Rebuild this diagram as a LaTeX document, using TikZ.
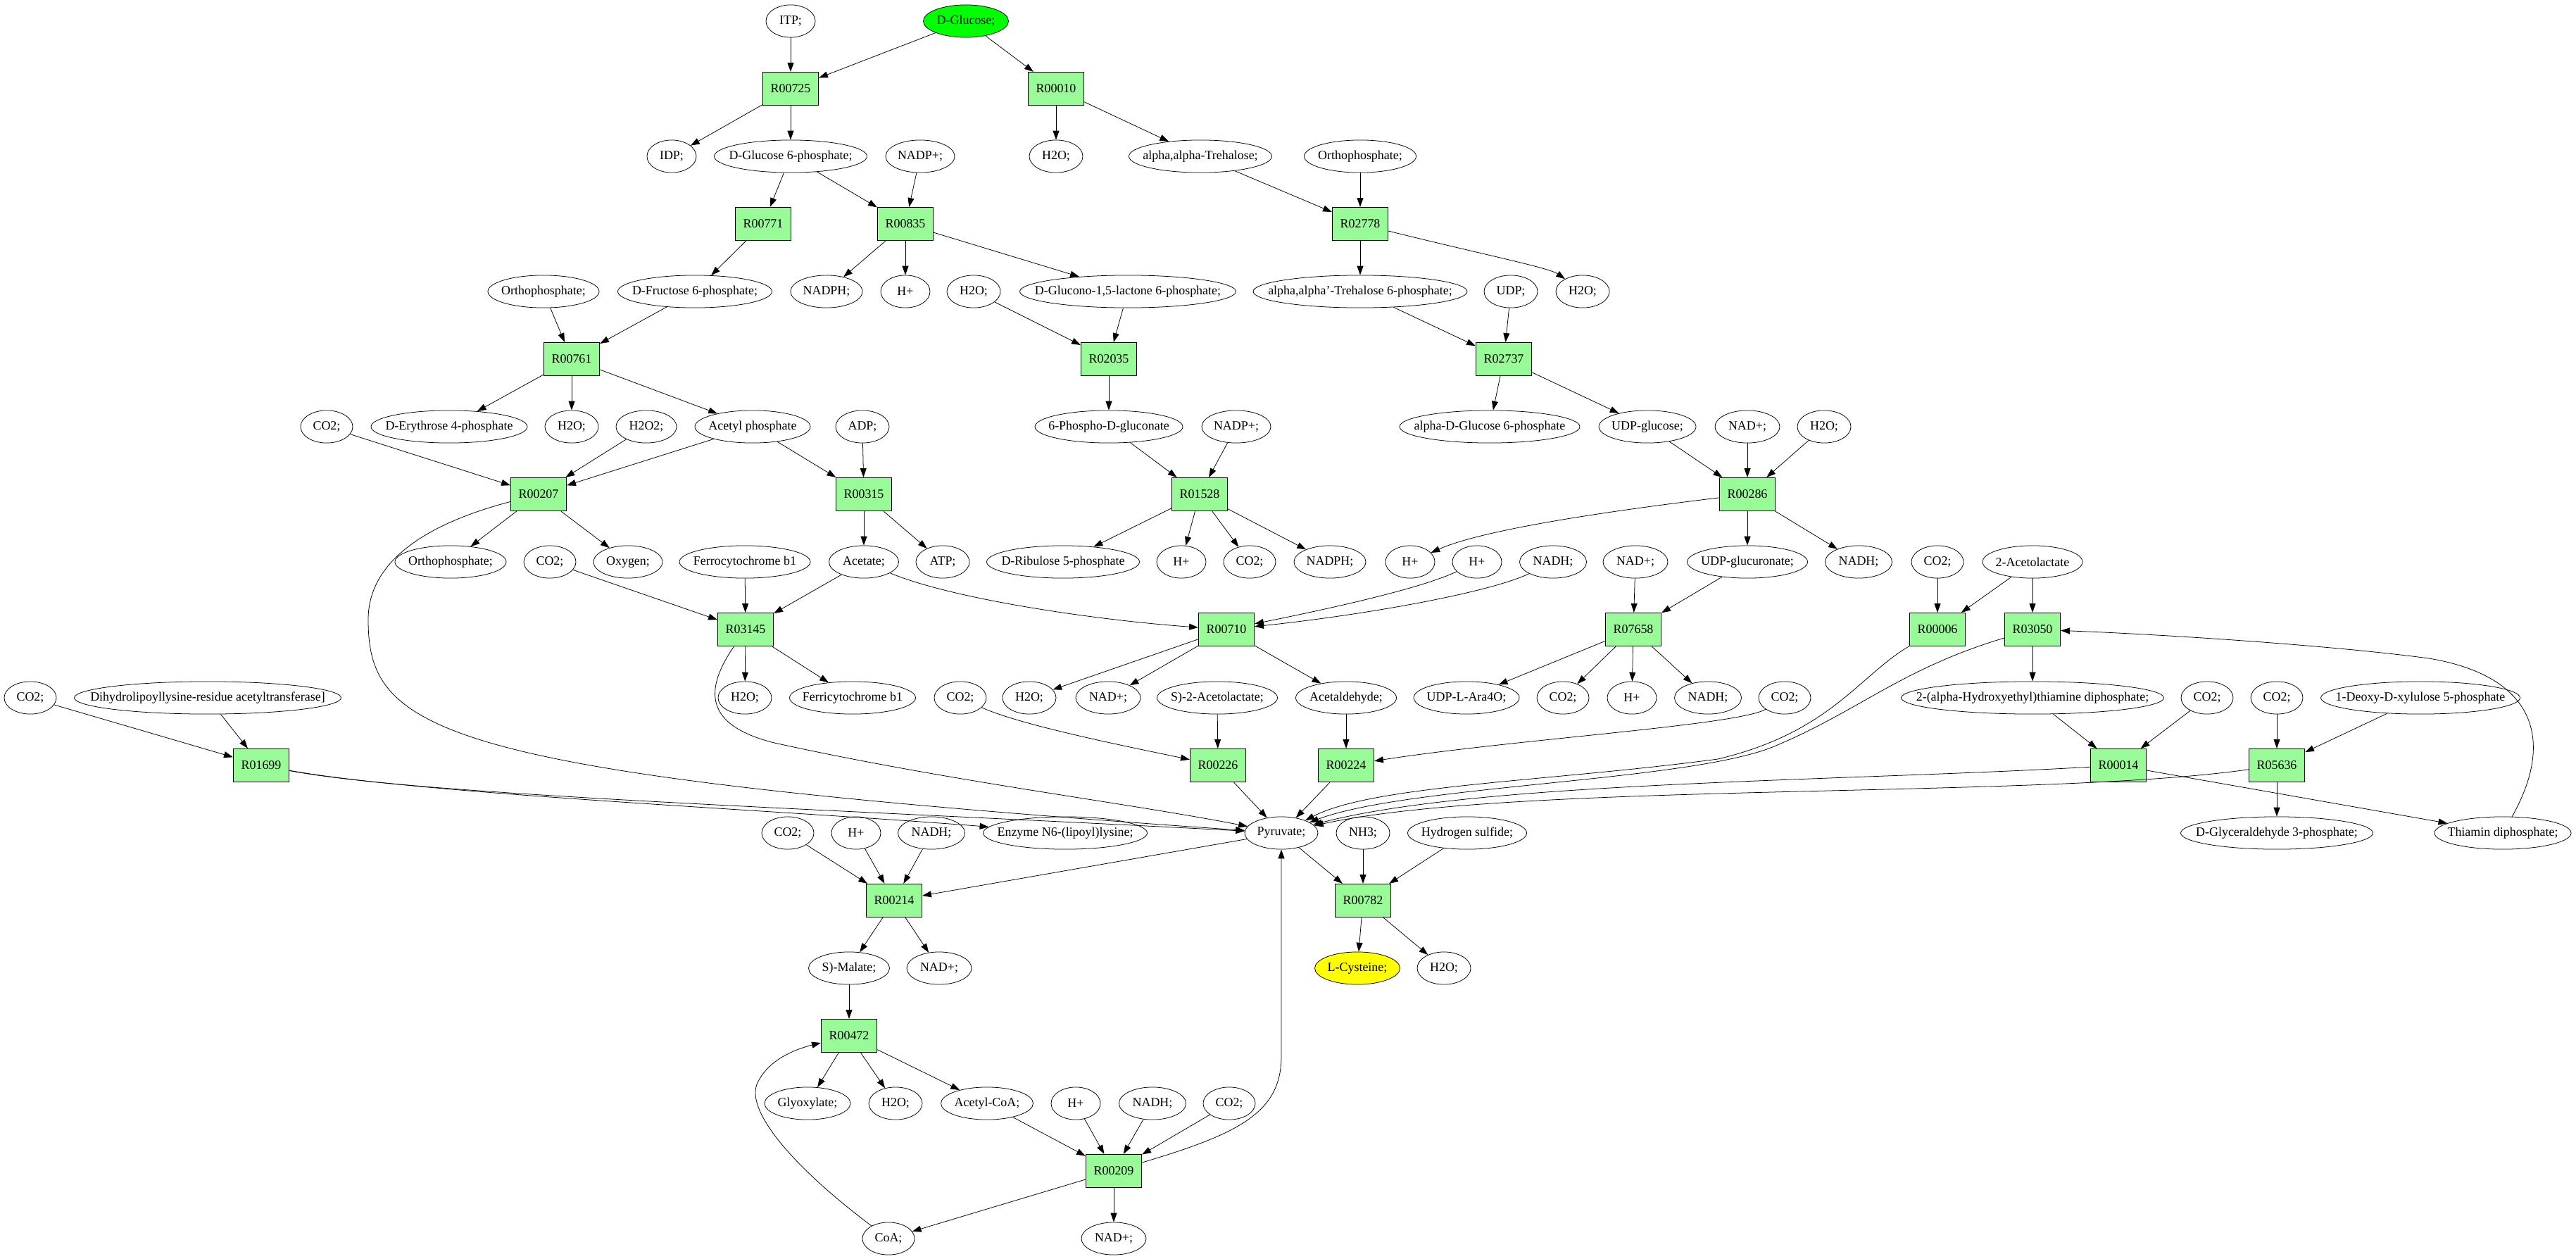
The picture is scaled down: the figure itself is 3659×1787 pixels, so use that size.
\documentclass[tikz,border=0pt]{standalone}
\usepackage{fontspec}
\setmainfont{Liberation Serif}
\usepackage{tikz}
\usetikzlibrary{arrows.meta,shapes}
\definecolor{rxngreen}{RGB}{152,251,152}
\definecolor{srcgreen}{RGB}{0,255,0}
\definecolor{dstyellow}{RGB}{255,255,0}

\begin{document}
\begin{tikzpicture}[x=0.78pt,y=-0.78pt,line width=0.6pt,font=\fontsize{14}{16}\selectfont]

\tikzset{cpd/.style = {shape=ellipse,draw,inner xsep=-40pt,minimum height=36pt,minimum width=#1*0.78pt}, cpd/.default=70}
\tikzset{rxn/.style = {shape=rectangle,draw,fill=rxngreen,minimum width=62pt,minimum height=37pt}}
\tikzset{edge/.style = {->,>={Triangle[length=10pt,width=7pt]}}}

\useasboundingbox (0,0) rectangle (3659,1787);

%compounds and reactions, level by level

\node[cpd] (itp) at (1123,30) {ITP;};
\node[cpd=121, fill=srcgreen] (glc) at (1372,30) {D-Glucose;};

\node[rxn] (r00725) at (1123,126) {R00725};
\node[rxn] (r00010) at (1500,126) {R00010};

\node[cpd] (idp) at (954,222) {IDP;};
\node[cpd=217] (g6p) at (1123,222) {D-Glucose 6-phosphate;};
\node[cpd=98] (nadpa) at (1307,222) {NADP+;};
\node[cpd=76] (h2oa) at (1500,222) {H2O;};
\node[cpd=203] (tre) at (1705,222) {alpha,alpha-Trehalose;};
\node[cpd=159] (pia) at (1932,222) {Orthophosphate;};

\node[rxn] (r00771) at (1084,318) {R00771};
\node[rxn] (r00835) at (1286,318) {R00835};
\node[rxn] (r02778) at (1932,318) {R02778};

\node[cpd=158] (pib) at (772,414) {Orthophosphate;};
\node[cpd=219] (f6p) at (987,414) {D-Fructose 6-phosphate;};
\node[cpd=102] (nadpha) at (1174,414) {NADPH;};
\node[cpd] (hpa) at (1286,414) {H+};
\node[cpd=76] (h2ob) at (1383,414) {H2O;};
\node[cpd=307] (glac) at (1602,414) {D-Glucono-1,5-lactone 6-phosphate;};
\node[cpd=304] (t6p) at (1932,414) {alpha,alpha'-Trehalose 6-phosphate;};
\node[cpd=76] (udp) at (2146,414) {UDP;};
\node[cpd=76] (h2oc) at (2248,414) {H2O;};

\node[rxn] (r00761) at (812,510) {R00761};
\node[rxn] (r02035) at (1575,510) {R02035};
\node[rxn] (r02737) at (2136,510) {R02737};

\node[cpd=74] (co2a) at (464,606) {CO2;};
\node[cpd=222] (e4p) at (638,606) {D-Erythrose 4-phosphate};
\node[cpd=76] (h2od) at (812,606) {H2O;};
\node[cpd=86] (h2o2) at (918,606) {H2O2;};
\node[cpd=164] (acp) at (1069,606) {Acetyl phosphate};
\node[cpd=76] (adp) at (1225,606) {ADP;};
\node[cpd=210] (pgl) at (1575,606) {6-Phospho-D-gluconate};
\node[cpd=98] (nadpb) at (1756,606) {NADP+;};
\node[cpd=256] (ag6p) at (2116,606) {alpha-D-Glucose 6-phosphate};
\node[cpd=138] (udpg) at (2340,606) {UDP-glucose;};
\node[cpd=92] (nada) at (2482,606) {NAD+;};
\node[cpd=76] (h2oe) at (2591,606) {H2O;};

\node[rxn] (r00207) at (765,702) {R00207};
\node[rxn] (r00315) at (1227,702) {R00315};
\node[rxn] (r01528) at (1704,702) {R01528};
\node[rxn] (r00286) at (2482,702) {R00286};

\node[cpd=158] (pic) at (640,798) {Orthophosphate;};
\node[cpd=74] (co2b) at (781,798) {CO2;};
\node[cpd=98] (oxy) at (892,798) {Oxygen;};
\node[cpd=186] (fcb) at (1058,798) {Ferrocytochrome b1};
\node[cpd=99] (ace) at (1227,798) {Acetate;};
\node[cpd=76] (atp) at (1339,798) {ATP;};
\node[cpd=217] (ru5p) at (1510,798) {D-Ribulose 5-phosphate};
\node[cpd] (hpb) at (1678,798) {H+};
\node[cpd=74] (co2c) at (1775,798) {CO2;};
\node[cpd=102] (nadphb) at (1889,798) {NADPH;};
\node[cpd] (hpc) at (2003,798) {H+};
\node[cpd] (hpd) at (2098,798) {H+};
\node[cpd=95] (nadha) at (2206,798) {NADH;};
\node[cpd=92] (nadb) at (2323,798) {NAD+;};
\node[cpd=171] (udpga) at (2482,798) {UDP-glucuronate;};
\node[cpd=95] (nadhb) at (2640,798) {NADH;};
\node[cpd=74] (co2d) at (2752,798) {CO2;};
\node[cpd=142] (acl) at (2887,798) {2-Acetolactate};

\node[rxn] (r03145) at (1059,894) {R03145};
\node[rxn] (r00710) at (1742,894) {R00710};
\node[rxn] (r07658) at (2320,894) {R07658};
\node[rxn] (r00006) at (2752,894) {R00006};
\node[rxn] (r03050) at (2887,894) {R03050};

\node[cpd=74] (co2e) at (43,991) {CO2;};
\node[cpd=379] (dla) at (295,991) {Dihydrolipoyllysine-residue acetyltransferase]};
\node[cpd=76] (h2of) at (1058,991) {H2O;};
\node[cpd=179] (fcc) at (1211,991) {Ferricytochrome b1};
\node[cpd=74] (co2f) at (1364,991) {CO2;};
\node[cpd=76] (h2og) at (1462,991) {H2O;};
\node[cpd=92] (nadc) at (1574,991) {NAD+;};
\node[cpd=171] (sacl) at (1729,991) {S)-2-Acetolactate;};
\node[cpd=143] (acald) at (1912,991) {Acetaldehyde;};
\node[cpd=150] (ara) at (2083,991) {UDP-L-Ara4O;};
\node[cpd=74] (co2g) at (2220,991) {CO2;};
\node[cpd] (hpe) at (2318,991) {H+};
\node[cpd=95] (nadhc) at (2426,991) {NADH;};
\node[cpd=74] (co2h) at (2535,991) {CO2;};
\node[cpd=373] (hetpp) at (2887,991) {2-(alpha-Hydroxyethyl)thiamine diphosphate;};
\node[cpd=74] (co2i) at (3135,991) {CO2;};
\node[cpd=74] (co2j) at (3234,991) {CO2;};
\node[cpd=283] (dxp) at (3438,991) {1-Deoxy-D-xylulose 5-phosphate};

\node[rxn] (r01699) at (371,1087) {R01699};
\node[rxn] (r00226) at (1730,1087) {R00226};
\node[rxn] (r00224) at (1912,1087) {R00224};
\node[rxn] (r00014) at (3009,1087) {R00014};
\node[rxn] (r05636) at (3234,1087) {R05636};

\node[cpd=74] (co2k) at (1119,1183) {CO2;};
\node[cpd] (hpf) at (1216,1183) {H+};
\node[cpd=95] (nadhd) at (1323,1183) {NADH;};
\node[cpd=233] (lip) at (1513,1183) {Enzyme N6-(lipoyl)lysine;};
\node[cpd=104] (pyr) at (1820,1183) {Pyruvate;};
\node[cpd=76] (nh3) at (1936,1183) {NH3;};
\node[cpd=169] (h2s) at (2084,1183) {Hydrogen sulfide;};
\node[cpd=273] (gap) at (3234,1183) {D-Glyceraldehyde 3-phosphate;};
\node[cpd=194] (tpp) at (3555,1183) {Thiamin diphosphate;};

\node[rxn] (r00214) at (1270,1279) {R00214};
\node[rxn] (r00782) at (1936,1279) {R00782};

\node[cpd=115] (mal) at (1206,1375) {S)-Malate;};
\node[cpd=92] (nadd) at (1334,1375) {NAD+;};
\node[cpd=121, fill=dstyellow] (cys) at (1928,1375) {L-Cysteine;};
\node[cpd=76] (h2oh) at (2051,1375) {H2O;};

\node[rxn] (r00472) at (1206,1471) {R00472};

\node[cpd=122] (glx) at (1147,1567) {Glyoxylate;};
\node[cpd=76] (h2oi) at (1272,1567) {H2O;};
\node[cpd=131] (accoa) at (1402,1567) {Acetyl-CoA;};
\node[cpd] (hpg) at (1528,1567) {H+};
\node[cpd=95] (nadhe) at (1637,1567) {NADH;};
\node[cpd=74] (co2l) at (1746,1567) {CO2;};

\node[rxn] (r00209) at (1582,1663) {R00209};

\node[cpd=74] (coa) at (1262,1759) {CoA;};
\node[cpd=92] (nade) at (1582,1759) {NAD+;};

%edges, upper part
\draw[edge] (itp) to (r00725);
\draw[edge] (glc) to (r00725);
\draw[edge] (glc) to (r00010);
\draw[edge] (r00725) to (idp);
\draw[edge] (r00725) to (g6p);
\draw[edge] (r00010) to (h2oa);
\draw[edge] (r00010) to (tre);
\draw[edge] (g6p) to (r00771);
\draw[edge] (g6p) to (r00835);
\draw[edge] (nadpa) to (r00835);
\draw[edge] (tre) to (r02778);
\draw[edge] (pia) to (r02778);
\draw[edge] (r00771) to (f6p);
\draw[edge] (r00835) to (nadpha);
\draw[edge] (r00835) to (hpa);
\draw[edge] (r00835) to (glac);
\draw[edge] (r02778) to (t6p);
\draw[edge] (r02778) .. controls (2100,360) and (2200,380) .. (h2oc);
\draw[edge] (pib) to (r00761);
\draw[edge] (f6p) to (r00761);
\draw[edge] (h2ob) to (r02035);
\draw[edge] (glac) to (r02035);
\draw[edge] (t6p) to (r02737);
\draw[edge] (udp) to (r02737);
\draw[edge] (r00761) to (e4p);
\draw[edge] (r00761) to (h2od);
\draw[edge] (r00761) to (acp);
\draw[edge] (r02035) to (pgl);
\draw[edge] (r02737) to (ag6p);
\draw[edge] (r02737) to (udpg);
\draw[edge] (co2a) to (r00207);
\draw[edge] (h2o2) to (r00207);
\draw[edge] (acp) to (r00207);
\draw[edge] (acp) to (r00315);
\draw[edge] (adp) to (r00315);
\draw[edge] (pgl) to (r01528);
\draw[edge] (nadpb) to (r01528);
\draw[edge] (udpg) to (r00286);
\draw[edge] (nada) to (r00286);
\draw[edge] (h2oe) to (r00286);
\draw[edge] (r00207) to (pic);
\draw[edge] (r00207) to (oxy);
\draw[edge] (r00315) to (ace);
\draw[edge] (r00315) to (atp);
\draw[edge] (r01528) to (ru5p);
\draw[edge] (r01528) to (hpb);
\draw[edge] (r01528) to (co2c);
\draw[edge] (r01528) to (nadphb);
\draw[edge] (r00286) .. controls (2250,730) and (2100,755) .. (hpc);
\draw[edge] (r00286) to (udpga);
\draw[edge] (r00286) to (nadhb);

%edges, middle part
\draw[edge] (co2b) to (r03145);
\draw[edge] (fcb) to (r03145);
\draw[edge] (ace) to (r03145);
\draw[edge] (ace) .. controls (1350,850) and (1550,880) .. (r00710);
\draw[edge] (hpd) .. controls (2020,835) and (1900,862) .. (r00710);
\draw[edge] (nadha) .. controls (2120,840) and (1950,872) .. (r00710);
\draw[edge] (nadb) to (r07658);
\draw[edge] (udpga) to (r07658);
\draw[edge] (co2d) to (r00006);
\draw[edge] (acl) to (r00006);
\draw[edge] (acl) to (r03050);
\draw[edge] (tpp) .. controls (3630,1050) and (3600,960) .. (3450,935) .. controls (3300,915) and (3050,900) .. (r03050);
\draw[edge] (r03145) to (h2of);
\draw[edge] (r03145) to (fcc);
\draw[edge] (r00710) to (h2og);
\draw[edge] (r00710) to (nadc);
\draw[edge] (r00710) to (acald);
\draw[edge] (r07658) to (ara);
\draw[edge] (r07658) to (co2g);
\draw[edge] (r07658) to (hpe);
\draw[edge] (r07658) to (nadhc);
\draw[edge] (r03050) to (hetpp);
\draw[edge] (co2f) .. controls (1450,1030) and (1600,1060) .. (r00226);
\draw[edge] (sacl) to (r00226);
\draw[edge] (acald) to (r00224);
\draw[edge] (co2h) .. controls (2470,1030) and (2150,1050) .. (r00224);
\draw[edge] (hetpp) to (r00014);
\draw[edge] (co2i) to (r00014);
\draw[edge] (co2j) to (r05636);
\draw[edge] (dxp) to (r05636);
\draw[edge] (co2e) to (r01699);
\draw[edge] (dla) to (r01699);

%edges into pyruvate
\draw[edge] (r00207) .. controls (620,740) and (523,790) .. (523,880) .. controls (523,1040) and (620,1100) .. (pyr);
\draw[edge] (r01699) .. controls (600,1130) and (1200,1150) .. (pyr);
\draw[edge] (r01699) .. controls (600,1128) and (1100,1150) .. (lip);
\draw[edge] (r03145) .. controls (1000,980) and (1000,1030) .. (1100,1055) .. controls (1350,1110) and (1600,1140) .. (pyr);
\draw[edge] (r00226) to (pyr);
\draw[edge] (r00224) to (pyr);
\draw[edge] (r00006) .. controls (2640,960) and (2600,1040) .. (2440,1078) .. controls (2200,1110) and (1950,1115) .. (pyr);
\draw[edge] (r03050) .. controls (2700,950) and (2640,1010) .. (2520,1060) .. controls (2400,1110) and (2000,1115) .. (pyr);
\draw[edge] (r00014) .. controls (2600,1110) and (2100,1110) .. (pyr);
\draw[edge] (r00014) to (tpp);
\draw[edge] (r05636) .. controls (2900,1135) and (2150,1110) .. (pyr);
\draw[edge] (r05636) to (gap);

%edges, lower part
\draw[edge] (pyr) to (r00214);
\draw[edge] (co2k) to (r00214);
\draw[edge] (hpf) to (r00214);
\draw[edge] (nadhd) to (r00214);
\draw[edge] (pyr) to (r00782);
\draw[edge] (nh3) to (r00782);
\draw[edge] (h2s) to (r00782);
\draw[edge] (r00782) to (cys);
\draw[edge] (r00782) to (h2oh);
\draw[edge] (r00214) to (mal);
\draw[edge] (r00214) to (nadd);
\draw[edge] (mal) to (r00472);
\draw[edge] (r00472) to (glx);
\draw[edge] (r00472) to (h2oi);
\draw[edge] (r00472) to (accoa);
\draw[edge] (accoa) to (r00209);
\draw[edge] (hpg) to (r00209);
\draw[edge] (nadhe) to (r00209);
\draw[edge] (co2l) to (r00209);
\draw[edge] (r00209) to (coa);
\draw[edge] (r00209) to (nade);
\draw[edge] (r00209) .. controls (1760,1610) and (1820,1580) .. (1820,1500) -- (pyr);
\draw[edge] (coa) .. controls (1130,1660) and (1060,1580) .. (1075,1540) .. controls (1090,1505) and (1130,1490) .. (r00472);

\end{tikzpicture}
\end{document}
